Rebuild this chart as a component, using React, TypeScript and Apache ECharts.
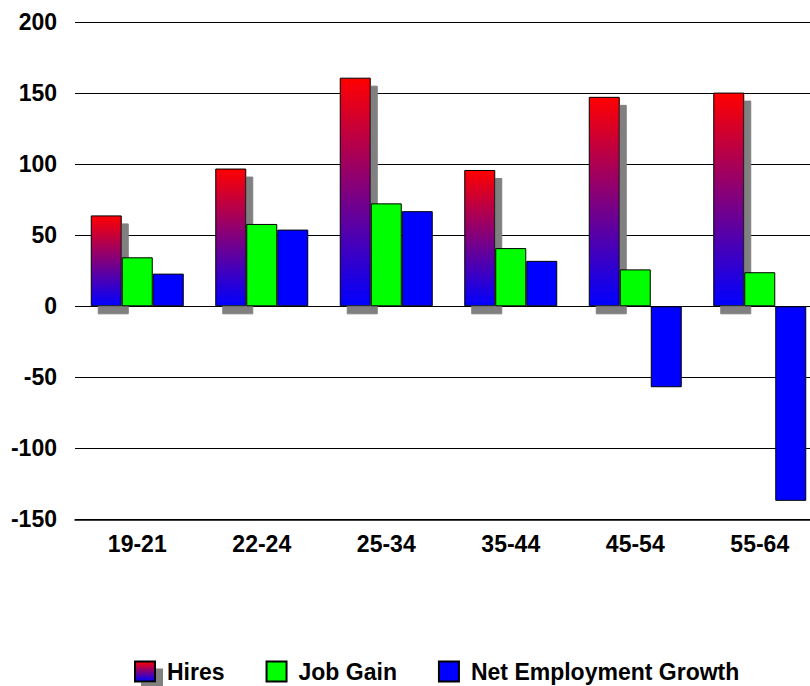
import React, { useEffect, useRef } from "react";
import * as echarts from "echarts";

const categories = ["19-21", "22-24", "25-34", "35-44", "45-54", "55-64"];
const hires = [64, 97, 161, 96, 147.5, 150.5];
const jobGain = [34.5, 58, 72.5, 41, 26, 24];
const netGrowth = [23, 54, 67, 32, -57, -137];
const seriesNames = ["Hires", "Job Gain", "Net Employment Growth"];

const FONT = "'Liberation Sans', Arial, Helvetica, sans-serif";
const SHADOW = {
  shadowColor: "#808080",
  shadowBlur: 0,
  shadowOffsetX: 7,
  shadowOffsetY: 8,
};

export default function App() {
  const ref = useRef<HTMLDivElement>(null);
  useEffect(() => {
    if (!ref.current) return;
    const chart = echarts.init(ref.current, undefined, { renderer: "svg" });
    const hiresGradient = new echarts.graphic.LinearGradient(0, 0, 0, 1, [
      { offset: 0, color: "#ff0000" },
      { offset: 1, color: "#0000ff" },
    ]);
    chart.setOption({
      animation: false,
      backgroundColor: "#ffffff",
      grid: { left: 75, right: 0, top: 22.3, bottom: 686 - 519.3, containLabel: false },
      legend: {
        data: [
          { name: seriesNames[0], icon: "rect", itemStyle: { ...SHADOW } },
          { name: seriesNames[1], icon: "rect" },
          { name: seriesNames[2], icon: "rect" },
        ],
        top: 660,
        left: 134,
        padding: 0,
        itemWidth: 20,
        itemHeight: 20,
        itemGap: 41,
        textStyle: {
          fontFamily: FONT,
          fontWeight: "bold",
          fontSize: 23,
          color: "#000",
          padding: [0, 0, 0, 7],
        },
      },
      xAxis: {
        type: "category",
        data: categories,
        position: "bottom",
        axisLine: { onZero: false, lineStyle: { color: "#000", width: 1.5 } },
        axisTick: { show: false },
        axisLabel: {
          fontFamily: FONT,
          fontWeight: "bold",
          fontSize: 23,
          color: "#000",
          margin: 13,
        },
        splitLine: { show: false },
      },
      yAxis: {
        type: "value",
        min: -150,
        max: 200,
        interval: 50,
        axisLine: { show: false },
        axisTick: { show: false },
        axisLabel: {
          fontFamily: FONT,
          fontWeight: "bold",
          fontSize: 23,
          color: "#000",
          margin: 18,
        },
        splitLine: { show: true, lineStyle: { color: "#000", width: 1 } },
      },
      series: [
        {
          name: seriesNames[0],
          type: "bar",
          data: hires,
          barWidth: 31,
          barGap: "0%",
          itemStyle: {
            color: hiresGradient,
            borderColor: "#000",
            borderWidth: 1,
            ...SHADOW,
          },
        },
        {
          name: seriesNames[1],
          type: "bar",
          data: jobGain,
          barWidth: 31,
          barGap: "0%",
          itemStyle: { color: "#00ff00", borderColor: "#000", borderWidth: 1 },
        },
        {
          name: seriesNames[2],
          type: "bar",
          data: netGrowth,
          barWidth: 31,
          barGap: "0%",
          itemStyle: { color: "#0000ff", borderColor: "#000", borderWidth: 1 },
        },
      ],
    });
    return () => chart.dispose();
  }, []);
  return (
    <div
      style={{
        position: "absolute",
        left: 0,
        top: 0,
        width: 810,
        height: 686,
        overflow: "hidden",
      }}
    >
      <div ref={ref} style={{ width: 822, height: 686 }} />
    </div>
  );
}
